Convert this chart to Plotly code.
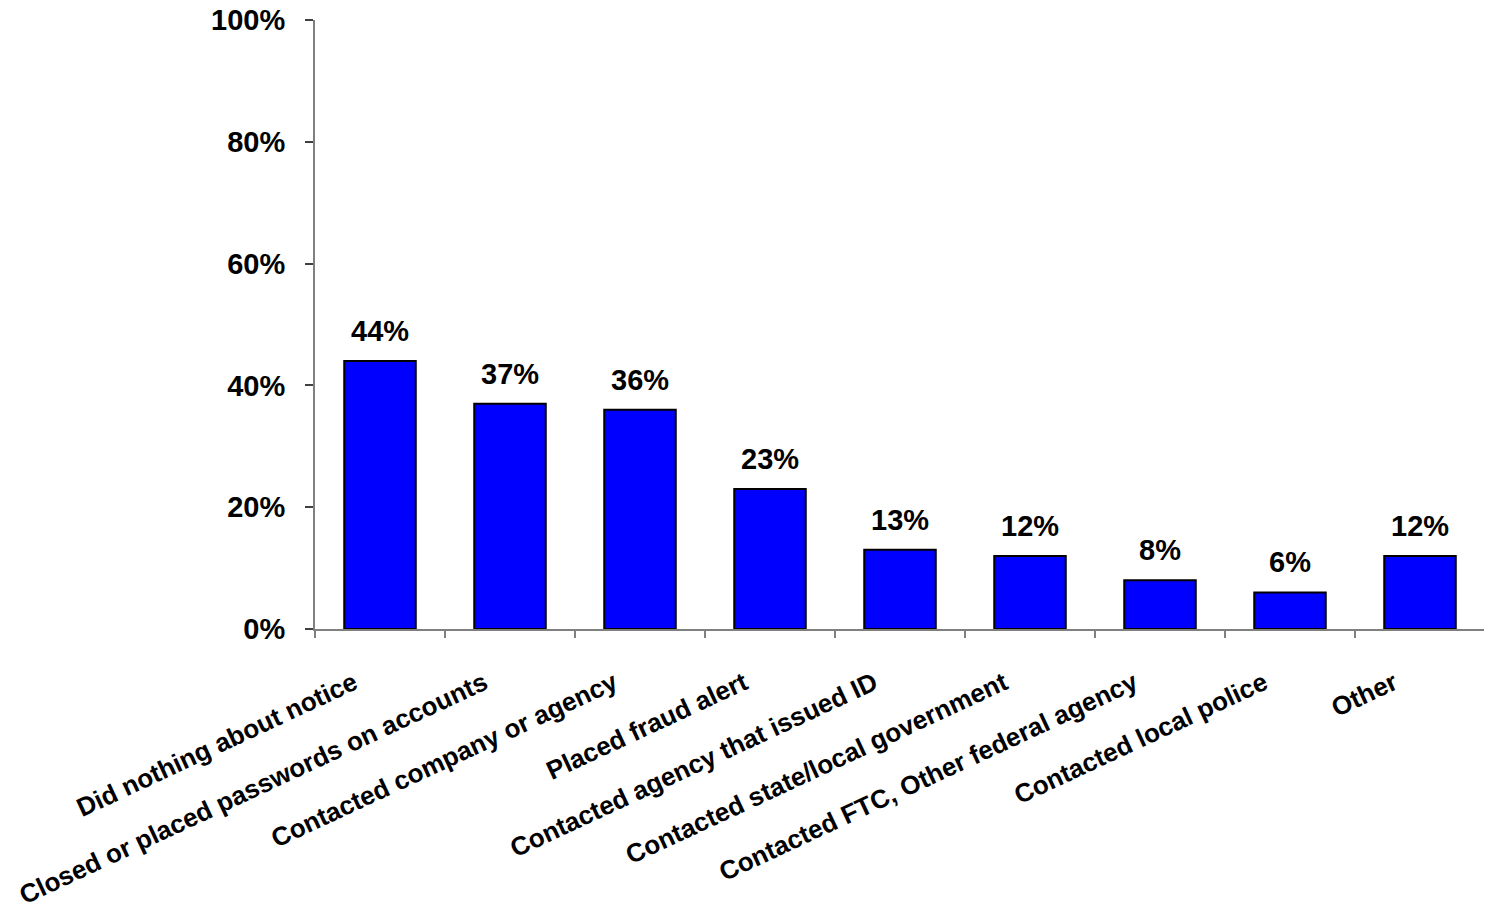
import plotly.graph_objects as go

categories = [
    "Did nothing about notice",
    "Closed or placed passwords on accounts",
    "Contacted company or agency",
    "Placed fraud alert",
    "Contacted agency that issued ID",
    "Contacted state/local government",
    "Contacted FTC, Other federal agency",
    "Contacted local police",
    "Other",
]
values = [44, 37, 36, 23, 13, 12, 8, 6, 12]
y_ticks = [0, 20, 40, 60, 80, 100]
y_tick_labels = ["0%", "20%", "40%", "60%", "80%", "100%"]

FONT = "Liberation Sans, Arial, sans-serif"

fig = go.Figure()
fig.add_trace(go.Bar(
    x=categories,
    y=values,
    marker=dict(color="#0000FF", line=dict(color="#000000", width=2)),
    width=0.55,
    hoverinfo="skip",
))

for c, v in zip(categories, values):
    fig.add_annotation(
        x=c, y=v, text=f"{v}%", showarrow=False,
        yanchor="bottom", yshift=12,
        font=dict(family=FONT, size=29, color="#000000", weight="bold"),
    )

fig.update_layout(
    width=1492, height=916,
    margin=dict(l=307, r=15, t=12, b=295),
    paper_bgcolor="white", plot_bgcolor="white",
    showlegend=False,
    font=dict(family=FONT, color="#000000"),
)
fig.update_xaxes(
    type="category", automargin=False,
    showline=True, linecolor="#808080", linewidth=2,
    ticks="outside", tickson="boundaries", ticklen=7, tickcolor="#808080", tickwidth=1.5,
    tickangle=-25,
    tickfont=dict(family=FONT, size=26, color="#000000", weight="bold"),
    ticklabelstandoff=27, ticklabelshift=-26,
    ticklabeloverflow="allow",
    showgrid=False, zeroline=False,
)
fig.update_yaxes(
    range=[0, 100], automargin=False,
    tickvals=y_ticks, ticktext=y_tick_labels,
    showline=True, linecolor="#808080", linewidth=2,
    ticks="outside", ticklen=8, tickcolor="#404040", tickwidth=1.5,
    tickfont=dict(family=FONT, size=29, color="#000000", weight="bold"),
    ticklabelstandoff=14,
    ticklabeloverflow="allow",
    showgrid=False, zeroline=False,
)

fig.write_html("out.html")
